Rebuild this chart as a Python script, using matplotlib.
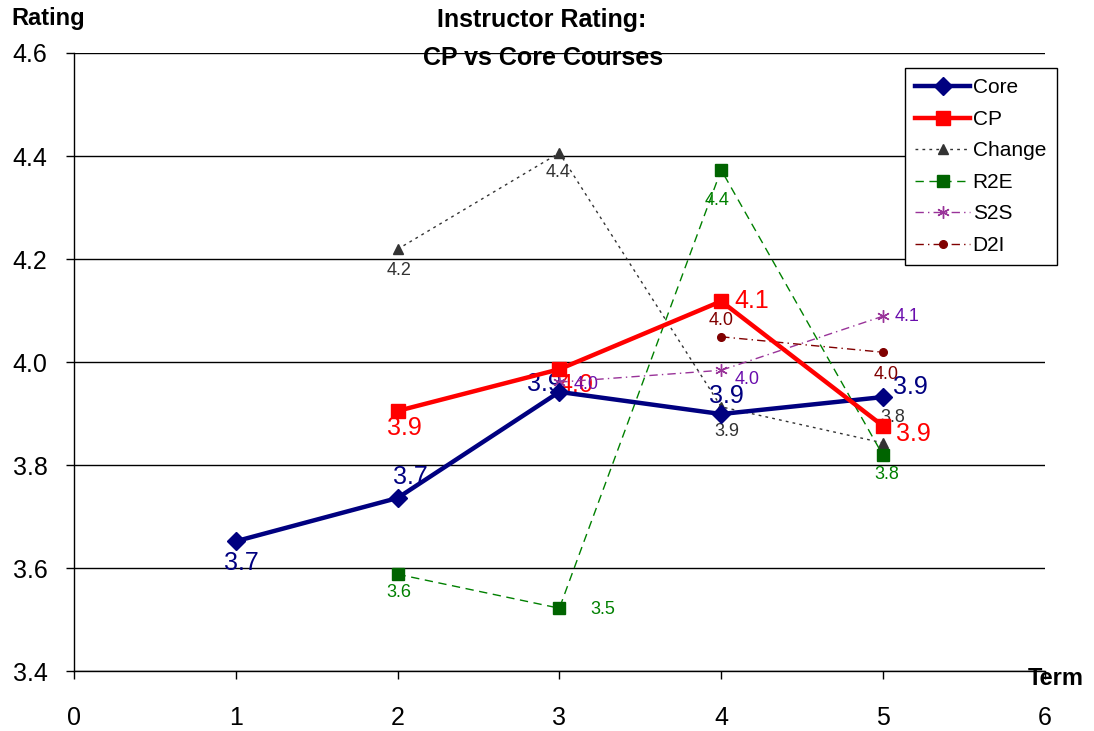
import matplotlib.pyplot as plt

plt.rcParams['font.family'] = ['Liberation Sans', 'DejaVu Sans']

# data
terms_core = [1, 2, 3, 4, 5]
core = [3.652, 3.736, 3.942, 3.899, 3.932]
terms_cp = [2, 3, 4, 5]
cp = [3.905, 3.986, 4.118, 3.876]
terms_change = [2, 3, 4, 5]
change = [4.219, 4.406, 3.913, 3.843]
terms_r2e = [2, 3, 4, 5]
r2e = [3.588, 3.522, 4.373, 3.819]
terms_s2s = [3, 4, 5]
s2s = [3.961, 3.984, 4.089]
terms_d2i = [4, 5]
d2i = [4.049, 4.019]

# label offsets (points) for each data label
off_core = [(4, -16), (9, 15), (-11, 6), (4, 13), (20, 7)]
off_cp = [(5, -12), (12, -11), (22, 0), (22, -6)]
off_change = [(1, -15), (-1, -14), (4, -18), (7, 18)]
off_r2e = [(1, -13), (31, -1), (-3, -22), (3, -14)]
off_s2s = [(19, -2), (19, -7), (17, 0)]
off_d2i = [(0, 12), (2, -16)]


def rotular(ax, xs, ys, offs, cor, tam):
    for x, y, o in zip(xs, ys, offs):
        ax.annotate('%.1f' % y, (x, y), xytext=o, textcoords='offset points',
                    ha='center', va='center', color=cor, fontsize=tam)


fig = plt.figure(figsize=(10.94, 7.31), dpi=100)
ax = fig.add_axes([0.0676, 0.082, 0.8874, 0.8455])

ax.plot(terms_core, core, color='#000080', lw=3.2, marker='D', ms=9, label='Core', zorder=5)
ax.plot(terms_cp, cp, color='#ff0000', lw=3.2, marker='s', ms=10, label='CP', zorder=5)
ax.plot(terms_change, change, color='#333333', lw=1, ls=(0, (2, 3)), marker='^', ms=7,
        label='Change', zorder=4)
ax.plot(terms_r2e, r2e, color='#008000', lw=1, ls=(0, (6, 4)), marker='s', ms=9,
        markerfacecolor='#006400', markeredgecolor='#006400', label='R2E', zorder=4)
ax.plot(terms_s2s, s2s, color='#993399', lw=1, ls=(0, (6, 3, 1, 3)), marker=(6, 2, 0), ms=9,
        markeredgecolor='#993399', label='S2S', zorder=4)
ax.plot(terms_d2i, d2i, color='#800000', lw=1, ls=(0, (6, 3, 1, 3)), marker='o', ms=5.5,
        label='D2I', zorder=4)

rotular(ax, terms_core, core, off_core, '#000080', 18)
rotular(ax, terms_cp, cp, off_cp, '#ff0000', 18)
rotular(ax, terms_change, change, off_change, '#333333', 13)
rotular(ax, terms_r2e, r2e, off_r2e, '#008000', 13)
rotular(ax, terms_s2s, s2s, off_s2s, '#6a0dad', 13)
rotular(ax, terms_d2i, d2i, off_d2i, '#800000', 13)

ax.set_xlim(0, 6)
ax.set_ylim(3.4, 4.6)
ax.set_xticks(range(7))
ax.set_yticks([3.4, 3.6, 3.8, 4.0, 4.2, 4.4, 4.6])
ax.set_yticklabels(['3.4', '3.6', '3.8', '4.0', '4.2', '4.4', '4.6'])
ax.yaxis.grid(True, color='black', lw=1)
ax.set_axisbelow(True)
for s in ['top', 'right']:
    ax.spines[s].set_visible(False)
ax.spines['left'].set_linewidth(1)
ax.spines['bottom'].set_linewidth(1)
ax.tick_params(axis='both', labelsize=18, direction='out', length=6, width=1)
ax.tick_params(axis='x', pad=19)
ax.tick_params(axis='y', pad=13)

fig.text(0.495, 0.972, 'Instructor Rating:', ha='center', va='center',
         fontsize=18, fontweight='bold')
fig.text(0.496, 0.921, 'CP vs Core Courses', ha='center', va='center',
         fontsize=18, fontweight='bold')
fig.text(0.044, 0.975, 'Rating', ha='center', va='center', fontsize=17, fontweight='bold')
fig.text(0.965, 0.0725, 'Term', ha='center', va='center', fontsize=17, fontweight='bold')

leg = ax.legend(loc='upper left', bbox_to_anchor=(905 / 1094, 1 - 68 / 731),
                bbox_transform=fig.transFigure, fontsize=15, fancybox=False,
                edgecolor='black', framealpha=1, handlelength=2.6, borderpad=0.5,
                labelspacing=0.6, handletextpad=0.15, borderaxespad=0)
leg.get_frame().set_linewidth(1)

fig.savefig('out.png', dpi=100)
